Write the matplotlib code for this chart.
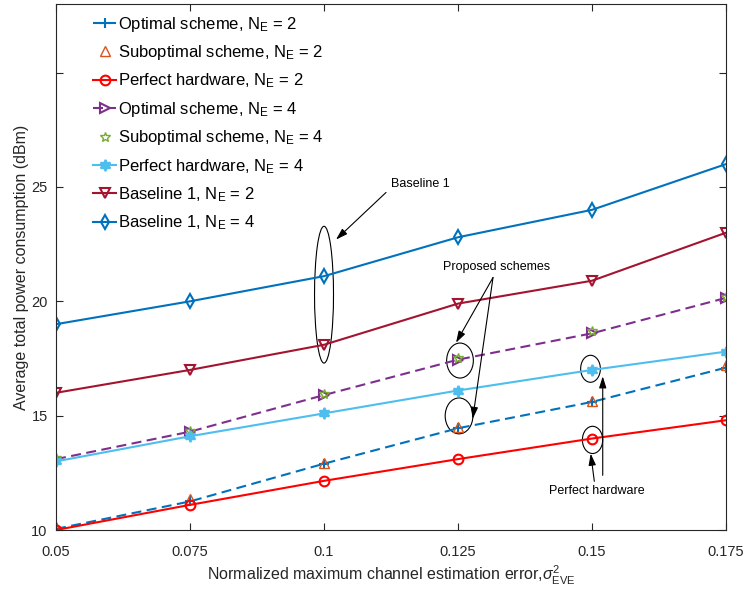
import numpy as np
import matplotlib.pyplot as plt
from matplotlib.patches import Ellipse

plt.rcParams['font.family'] = ['Liberation Sans', 'DejaVu Sans']
plt.rcParams['mathtext.fontset'] = 'custom'
plt.rcParams['mathtext.rm'] = 'Liberation Sans'
plt.rcParams['mathtext.it'] = 'Liberation Sans:italic'

# estimation error levels
sigma2 = [0.05, 0.075, 0.1, 0.125, 0.15, 0.175]

# average total power consumption (dBm)
opt_ne2 = [10.05, 11.25, 12.9, 14.45, 15.6, 17.1]
subopt_ne2 = [10.15, 11.35, 12.95, 14.5, 15.65, 17.2]
perfect_ne2 = [10.0, 11.1, 12.15, 13.1, 14.0, 14.8]
opt_ne4 = [13.1, 14.3, 15.9, 17.45, 18.6, 20.15]
subopt_ne4 = [13.15, 14.35, 15.95, 17.5, 18.7, 20.2]
perfect_ne4 = [13.0, 14.1, 15.1, 16.1, 17.0, 17.8]
base_ne2 = [16.0, 17.0, 18.1, 19.9, 20.9, 23.0]
base_ne4 = [19.0, 20.0, 21.1, 22.8, 24.0, 26.0]

xtick_labels = ['0.05', '0.075', '0.1', '0.125', '0.15', '0.175']
yticks = [10, 15, 20, 25, 30]
ytick_labels = ['10', '15', '20', '25', '']

fig = plt.figure(figsize=(7.48, 5.97), dpi=100)
ax = fig.add_axes([0.0749, 0.1122, 0.8957, 0.8811])

lw = 1.5
ms = 7
dash = (4.8, 2.6)
hexagram = (6, 1, 0)

ax.plot(sigma2, opt_ne2, '--', dashes=dash, color='#0072BD', marker='+', ms=ms, mew=lw, lw=lw,
        label=r'Optimal scheme, N$_{\rm E}$ = 2')
ax.plot(sigma2, subopt_ne2, ls='none', color='#D95319', marker='^', ms=ms, mfc='none', mew=1.0,
        label=r'Suboptimal scheme, N$_{\rm E}$ = 2')
ax.plot(sigma2, perfect_ne2, '-', color='#FF0000', marker='o', ms=ms, mfc='none', mew=lw, lw=lw,
        label=r'Perfect hardware, N$_{\rm E}$ = 2')
ax.plot(sigma2, opt_ne4, '--', dashes=dash, color='#7E2F8E', marker='>', ms=ms, mfc='none', mew=lw, lw=lw,
        label=r'Optimal scheme, N$_{\rm E}$ = 4')
ax.plot(sigma2, subopt_ne4, ls='none', color='#77AC30', marker='*', ms=ms, mfc='none', mew=1.0,
        label=r'Suboptimal scheme, N$_{\rm E}$ = 4')
ax.plot(sigma2, perfect_ne4, '-', color='#4DBEEE', marker=hexagram, ms=ms + 1, mew=lw, lw=lw,
        label=r'Perfect hardware, N$_{\rm E}$ = 4')
ax.plot(sigma2, base_ne2, '-', color='#A2142F', marker='v', ms=ms, mfc='none', mew=lw, lw=lw,
        label=r'Baseline 1, N$_{\rm E}$ = 2')
ax.plot(sigma2, base_ne4, '-', color='#0072BD', marker='d', ms=ms, mfc='none', mew=lw, lw=lw,
        label=r'Baseline 1, N$_{\rm E}$ = 4')

ax.set_xlim(0.05, 0.175)
ax.set_ylim(10, 33)
ax.set_xticks(sigma2)
ax.set_xticklabels(xtick_labels)
ax.set_yticks(yticks)
ax.set_yticklabels(ytick_labels)
ax.tick_params(direction='in', top=True, right=True, labelsize=10.5, colors='#262626',
               length=5, width=0.8)
ax.tick_params(axis='x', pad=11)
ax.tick_params(axis='y', pad=6)
for s in ax.spines.values():
    s.set_color('#262626')
    s.set_linewidth(0.8)

ax.set_xlabel(r'Normalized maximum channel estimation error,$\sigma^2_{\rm EVE}$',
              fontsize=11.5, color='#262626', labelpad=3)
ax.set_ylabel('Average total power consumption (dBm)', fontsize=11.5, color='#262626', labelpad=2)

ax.legend(loc='upper left', bbox_to_anchor=(0.033, 1.008), frameon=False, fontsize=12,
          handlelength=1.4, handletextpad=0.1, labelspacing=0.57)

# annotations: ellipses around groups of points
ell_kw = dict(fill=False, ec='black', lw=0.8)
ax.add_patch(Ellipse((0.1, 20.29), 0.00354, 5.98, **ell_kw))
ax.add_patch(Ellipse((0.12537, 17.41), 0.00498, 1.53, **ell_kw))
ax.add_patch(Ellipse((0.12519, 14.99), 0.00517, 1.57, **ell_kw))
ax.add_patch(Ellipse((0.14972, 17.05), 0.00368, 1.18, **ell_kw))
ax.add_patch(Ellipse((0.1501, 13.94), 0.00379, 1.19, **ell_kw))

arrow_kw = dict(arrowstyle='-|>,head_length=0.7,head_width=0.22', color='black', lw=0.8,
                shrinkA=0, shrinkB=0)
ax.text(0.1125, 25.14, 'Baseline 1', fontsize=9, va='center', ha='left')
ax.annotate('', xy=(0.10224, 22.70), xytext=(0.11157, 24.76), arrowprops=arrow_kw)

ax.text(0.1321, 21.49, 'Proposed schemes', fontsize=9, va='center', ha='center')
ax.annotate('', xy=(0.12463, 18.19), xytext=(0.13153, 21.04), arrowprops=arrow_kw)
ax.annotate('', xy=(0.12774, 14.86), xytext=(0.13153, 21.04), arrowprops=arrow_kw)

ax.text(0.15093, 11.72, 'Perfect hardware', fontsize=9, va='center', ha='center')
ax.annotate('', xy=(0.14976, 13.34), xytext=(0.15043, 12.13), arrowprops=arrow_kw)
ax.annotate('', xy=(0.152, 16.72), xytext=(0.152, 12.39), arrowprops=arrow_kw)

fig.savefig('out.png', dpi=100)
